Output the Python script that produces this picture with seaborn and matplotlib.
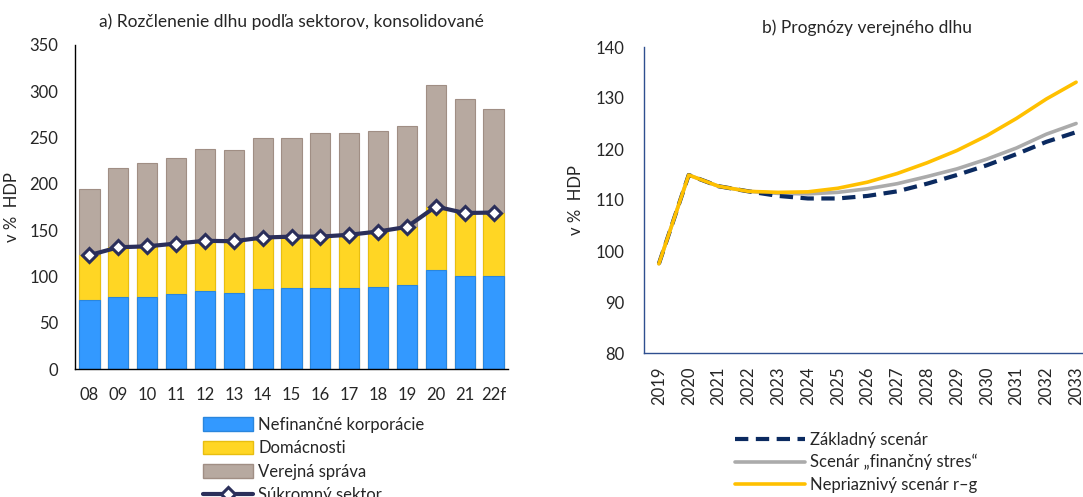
import numpy as np
import pandas as pd
import matplotlib
matplotlib.use("Agg")
import matplotlib.pyplot as plt
import seaborn as sns
from matplotlib.patches import Patch
from matplotlib.lines import Line2D

# a) dlh podla sektorov (v % HDP)
roky_a = ['08', '09', '10', '11', '12', '13', '14', '15', '16', '17', '18', '19', '20', '21', '22f']
nefin = [74.5, 78, 78, 81, 84, 82, 86.5, 87, 87, 87, 88.5, 91, 107, 101, 101]
sukromny = [123, 131.5, 132.5, 135.5, 138.5, 138, 142, 143, 143, 145, 148.5, 153.5, 175.5, 168.5, 169]
spolu = [194, 217, 222, 227.5, 237.5, 237, 249, 250, 254.5, 255, 257, 263, 306.5, 292, 281]
domacnosti = list(np.array(sukromny) - np.array(nefin))
verejna = list(np.array(spolu) - np.array(sukromny))

# b) prognozy verejneho dlhu
roky_b = list(range(2019, 2034))
zakladny = [97.5, 114.9, 112.7, 111.7, 110.8, 110.3, 110.3, 110.8, 111.7, 113.2, 114.9, 116.8, 119.0, 121.4, 123.3]
stres = [97.5, 114.9, 112.7, 111.7, 111.3, 111.2, 111.5, 112.2, 113.2, 114.6, 116.1, 118.0, 120.2, 122.9, 125.0]
nepriaznivy = [97.5, 114.9, 112.7, 111.7, 111.5, 111.6, 112.3, 113.5, 115.2, 117.3, 119.7, 122.6, 126.0, 129.8, 133.1]

sns.set_theme(style="white")
plt.rcParams['font.family'] = ['Lato', 'DejaVu Sans']
plt.rcParams['font.size'] = 12

c_blue = '#3399FF'
c_yel = '#FFD624'
c_grey = '#B7A9A0'
c_navy = '#2B2F5A'

fig = plt.figure(figsize=(10.83, 4.97), dpi=100)
ax1 = fig.add_axes([75 / 1083, 1 - 369 / 497, 433 / 1083, 324 / 497])
ax2 = fig.add_axes([644 / 1083, 1 - 353 / 497, 447 / 1083, 306 / 497])

df_a = pd.DataFrame({'rok': roky_a, 'nefin': nefin, 'sukromny': sukromny, 'spolu': spolu})
for col, farba, hrana in [('spolu', c_grey, '#A08E84'), ('sukromny', c_yel, '#E8BE10'), ('nefin', c_blue, '#2A86DD')]:
    sns.barplot(data=df_a, x='rok', y=col, color=farba, saturation=1, width=0.7,
                edgecolor=hrana, linewidth=0.8, ax=ax1)
sns.lineplot(x=np.arange(len(roky_a)), y=sukromny, color=c_navy, lw=3, marker='D',
             markersize=7, markerfacecolor='white', markeredgecolor=c_navy, markeredgewidth=2.2, ax=ax1)
ax1.set_ylim(0, 350)
ax1.set_xlim(-0.5, len(roky_a) - 0.5)
ax1.set_yticks(range(0, 351, 50))
ax1.set_xlabel('')
ax1.set_ylabel('v %  HDP', fontsize=12)
ax1.yaxis.set_label_coords(-0.128, 0.5)
ax1.set_title('a) Rozčlenenie dlhu podľa sektorov, konsolidované', fontsize=12.5, pad=13)
for s in ['top', 'right']:
    ax1.spines[s].set_visible(False)
for s in ['left', 'bottom']:
    ax1.spines[s].set_color('black')
    ax1.spines[s].set_linewidth(1)
ax1.tick_params(axis='x', length=0, pad=13, labelsize=12)
ax1.tick_params(axis='y', length=0, pad=12, labelsize=12)

h1 = [Patch(facecolor=c_blue, edgecolor='#2A86DD'), Patch(facecolor=c_yel, edgecolor='#E8BE10'),
      Patch(facecolor=c_grey, edgecolor='#A08E84'),
      Line2D([], [], color=c_navy, lw=3, marker='D', markersize=7, markerfacecolor='white',
             markeredgecolor=c_navy, markeredgewidth=2.2)]
l1 = ['Nefinančné korporácie', 'Domácnosti', 'Verejná správa', 'Súkromný sektor']
fig.legend(h1, l1, loc='upper left', bbox_to_anchor=(196 / 1083, 1 - 410 / 497), frameon=False,
           fontsize=12, handlelength=3.0, handleheight=0.9, labelspacing=0.45, handletextpad=0.35,
           borderaxespad=0)

df_b = pd.DataFrame({'rok': roky_b, 'zakladny': zakladny, 'stres': stres, 'nepriaznivy': nepriaznivy})
sns.lineplot(data=df_b, x='rok', y='stres', color='#ABABAB', lw=2.6, ax=ax2)
sns.lineplot(data=df_b, x='rok', y='zakladny', color='#0B2A60', lw=3, ax=ax2, dashes=False)
ax2.lines[-1].set_dashes([3.2, 1.8])
sns.lineplot(data=df_b, x='rok', y='nepriaznivy', color='#FFC000', lw=2.6, ax=ax2)
ax2.set_ylim(80, 140)
ax2.set_xlim(2018.5, 2033.5)
ax2.set_xticks(roky_b)
ax2.set_xticklabels([str(r) for r in roky_b], rotation=90)
ax2.set_xlabel('')
ax2.set_ylabel('v %  HDP', fontsize=12)
ax2.yaxis.set_label_coords(-0.135, 0.5)
ax2.set_title('b) Prognózy verejného dlhu', fontsize=12.5, pad=10)
for s in ['top', 'right']:
    ax2.spines[s].set_visible(False)
for s in ['left', 'bottom']:
    ax2.spines[s].set_color('#2F4F8F')
    ax2.spines[s].set_linewidth(1)
ax2.tick_params(axis='x', length=0, pad=10, labelsize=12)
ax2.tick_params(axis='y', length=0, pad=14, labelsize=12)

h2 = [Line2D([], [], color='#0B2A60', lw=3, dashes=[3.2, 1.8]), Line2D([], [], color='#ABABAB', lw=2.6),
      Line2D([], [], color='#FFC000', lw=2.6)]
l2 = ['Základný scenár', 'Scenár „finančný stres“', 'Nepriaznivý scenár r–g']
fig.legend(h2, l2, loc='upper left', bbox_to_anchor=(728 / 1083, 1 - 425 / 497), frameon=False,
           fontsize=12, handlelength=4.2, labelspacing=0.38, handletextpad=0.35, borderaxespad=0)

fig.savefig('out.png', dpi=100)
